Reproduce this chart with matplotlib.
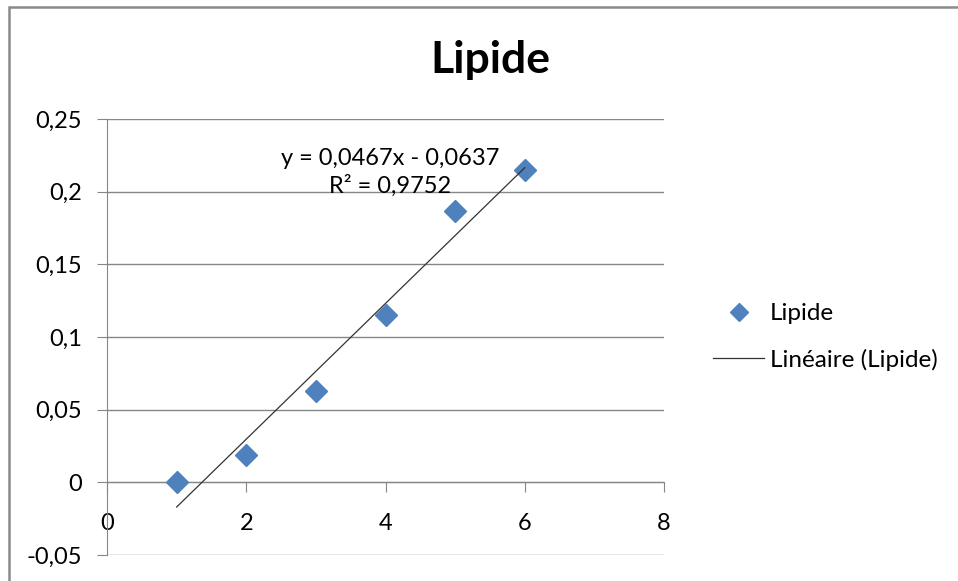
import numpy as np
import matplotlib.pyplot as plt
from matplotlib.patches import Rectangle
from matplotlib.lines import Line2D

# values
x_vals = [1, 2, 3, 4, 5, 6]
y_vals = [0.0, 0.0186, 0.0626, 0.115, 0.187, 0.2147]
slope = 0.0467
intercept = -0.0637
r2 = 0.9752
x_ticks = [0, 2, 4, 6, 8]
y_ticks = [-0.05, 0, 0.05, 0.1, 0.15, 0.2, 0.25]

plt.rcParams['font.family'] = ['Lato', 'DejaVu Sans']

def fr(v):
    # french decimal comma, excel style
    s = ('%g' % round(v, 4)).replace('.', ',')
    return '0' if s in ('-0', '0') else s

fig = plt.figure(figsize=(9.58, 5.81), dpi=100)
ax = fig.add_axes([107/958, 1 - 555/581, (664 - 107)/958, (555 - 119)/581])

gray = '#868686'
blue = '#4F81BD'

ax.set_xlim(0, 8)
ax.set_ylim(-0.05, 0.25)
ax.set_xticks(x_ticks)
ax.set_yticks(y_ticks)
ax.set_xticklabels([fr(t) for t in x_ticks])
ax.set_yticklabels([fr(t) for t in y_ticks])
ax.yaxis.grid(True, color=gray, lw=1)
ax.set_axisbelow(True)

for s in ['top', 'right']:
    ax.spines[s].set_visible(False)
ax.spines['bottom'].set_position(('data', 0))
ax.spines['bottom'].set_color(gray)
ax.spines['left'].set_color(gray)
ax.tick_params(axis='x', direction='out', length=7, color=gray, pad=15, labelsize=17)
ax.tick_params(axis='y', direction='out', length=7, color=gray, pad=11, labelsize=17)

ax.plot(x_vals, y_vals, 'D', color=blue, markersize=11.5, zorder=3, clip_on=False)
xt = np.array([x_vals[0], x_vals[-1]])
ax.plot(xt, slope * xt + intercept, color='#333333', lw=0.9, zorder=4)

# trendline label (equation + R²), as excel puts it
eq = 'y = %sx - %s' % (fr(slope), fr(-intercept))
ax.text(4.07, 0.2135, eq + '\nR² = ' + fr(r2), ha='center', va='center',
        fontsize=17, linespacing=1.3, zorder=5)

fig.text(490/958, 1 - 60/581, 'Lipide', ha='center', va='center',
         fontsize=32, fontweight='bold')

handles = [Line2D([], [], ls='none', marker='D', color=blue, markersize=9),
           Line2D([], [], color='#333333', lw=0.9)]
fig.legend(handles, ['Lipide', 'Linéaire (Lipide)'], loc='center left',
           bbox_to_anchor=(713/958, 1 - 337/581), frameon=False, fontsize=17.5,
           handlelength=2.1, handletextpad=0.25, labelspacing=1.0,
           borderaxespad=0, borderpad=0)

# chart area border (only left and top edges show in the crop)
fig.patches.append(Rectangle((9/958, -0.1), 1.2, 1 - 7/581 + 0.1,
                             transform=fig.transFigure, fill=False,
                             ec='#8a8a8a', lw=1.8))

fig.savefig('out.png', dpi=100)
